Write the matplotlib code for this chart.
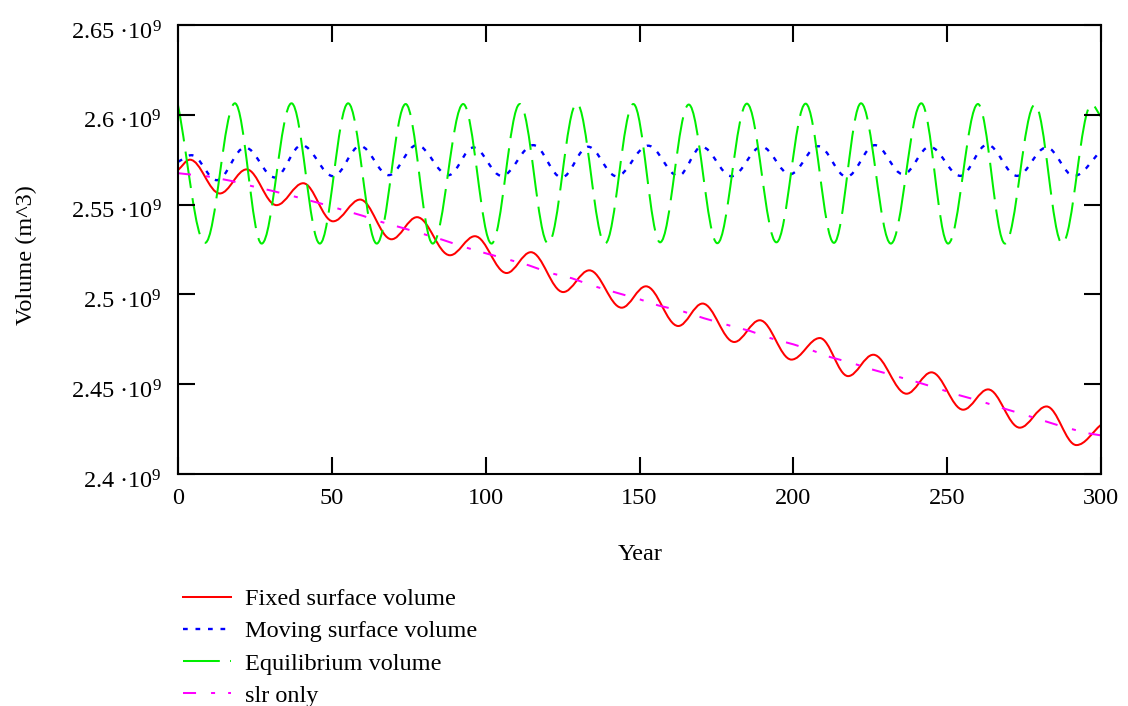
import matplotlib
matplotlib.use("Agg")
import matplotlib.pyplot as plt
from matplotlib.path import Path
from matplotlib.patches import PathPatch
from matplotlib.lines import Line2D
from matplotlib.ticker import FuncFormatter
from matplotlib.transforms import ScaledTranslation

# volumes in units of 10^9 m^3, turning points
fixed_year = [0, 3.9, 13.6, 22.3, 32.0, 40.7, 50.4, 59.2, 69.4, 77.7,
              88.4, 96.5, 106.8, 114.7, 125.2, 133.7, 144.2, 152.1, 162.6, 170.5,
              180.8, 189.1, 199.4, 208.6, 217.8, 226.0, 236.8, 244.9, 255.2, 263.3,
              273.6, 282.3, 292.0, 300]
fixed_vol = [2.5692, 2.5750, 2.5562, 2.5696, 2.5497, 2.5619, 2.5407, 2.5528, 2.5307, 2.5430,
             2.5218, 2.5324, 2.5119, 2.5235, 2.5013, 2.5134, 2.4926, 2.5045, 2.4824, 2.4949,
             2.4735, 2.4856, 2.4637, 2.4757, 2.4545, 2.4664, 2.4447, 2.4566, 2.4358, 2.4471,
             2.4258, 2.4376, 2.4161, 2.4274]

moving_year = [0, 4.4, 12.6, 21.8, 31.5, 40.2, 50.5, 59.2, 68.5, 77.6,
               87.9, 96.0, 105.2, 115.5, 124.7, 133.3, 142.5, 152.8, 162.6, 170.2,
               179.9, 189.7, 198.9, 208.1, 217.3, 226.5, 235.7, 244.3, 254.3, 263.0,
               272.7, 282.3, 291.2, 300]
moving_vol = [2.5738, 2.5775, 2.5636, 2.5818, 2.5651, 2.5831, 2.5658, 2.5826, 2.5664, 2.5831,
              2.5664, 2.5818, 2.5660, 2.5831, 2.5651, 2.5822, 2.5658, 2.5828, 2.5660, 2.5822,
              2.5658, 2.5822, 2.5669, 2.5825, 2.5655, 2.5831, 2.5669, 2.5822, 2.5660, 2.5834,
              2.5660, 2.5818, 2.5660, 2.5799]

equil_year = [0, 8.8, 18.5, 27.2, 36.9, 46.1, 55.3, 64.6, 74.0, 82.8,
              92.7, 101.9, 111.1, 120.3, 129.6, 138.8, 148.0, 156.7, 166.0, 175.3,
              184.9, 194.5, 204.0, 213.2, 222.0, 231.7, 241.6, 250.3, 260.0, 268.8,
              278.5, 287.4, 296.9, 300]
equil_vol = [2.6054, 2.5287, 2.6064, 2.5283, 2.6064, 2.5283, 2.6064, 2.5283, 2.6060, 2.5283,
             2.6060, 2.5283, 2.6060, 2.5283, 2.6064, 2.5283, 2.6060, 2.5290, 2.6057, 2.5285,
             2.6062, 2.5290, 2.6062, 2.5287, 2.6064, 2.5283, 2.6064, 2.5283, 2.6060, 2.5283,
             2.6057, 2.5283, 2.6057, 2.5989]

slr_year = [0, 10, 17, 24, 31, 39, 46, 52, 60, 66,
            73, 80, 86, 93, 100, 107, 114, 121, 128, 135,
            142, 150, 156, 164, 171, 179, 186, 192, 200, 205.5,
            212, 219, 226, 232.5, 240, 246.5, 253, 260, 267, 274,
            280, 288, 296, 300]
slr_vol = [2.5675, 2.5656, 2.5633, 2.5603, 2.5575, 2.5540, 2.5508, 2.5478, 2.5438, 2.5404,
           2.5370, 2.5335, 2.5304, 2.5264, 2.5229, 2.5196, 2.5162, 2.5119, 2.5090, 2.5047,
           2.5012, 2.4973, 2.4939, 2.4906, 2.4867, 2.4828, 2.4796, 2.4759, 2.4722, 2.4692,
           2.4651, 2.4618, 2.4580, 2.4549, 2.4513, 2.4479, 2.4443, 2.4410, 2.4372, 2.4336,
           2.4304, 2.4261, 2.4226, 2.4215]

x_ticks = [0, 50, 100, 150, 200, 250, 300]
y_ticks = [2.4, 2.45, 2.5, 2.55, 2.6, 2.65]

labels = ["Fixed surface volume", "Moving surface volume", "Equilibrium volume", "slr only"]

plt.rcParams["font.family"] = ["Liberation Serif", "DejaVu Serif"]
plt.rcParams["mathtext.fontset"] = "custom"
plt.rcParams["mathtext.rm"] = "Liberation Serif"
plt.rcParams["mathtext.it"] = "Liberation Serif:italic"
plt.rcParams["lines.scale_dashes"] = False

FS = 17.5
LW = 1.45
styles = [
    dict(color="#ff0000", linestyle="-", lw=LW),
    dict(color="#0000ff", linestyle=(0, (3.4, 5.6)), lw=1.7),
    dict(color="#00ee00", linestyle=(0, (26.5, 7.4)), lw=LW),
    dict(color="#ff00ff", linestyle=(0, (9.4, 10.8, 2.9, 9.4)), lw=LW),
]


def smooth_path(xs, ys, k=0.36):
    # cubic segments with flat tangents at the turning points
    verts = [(xs[0], ys[0])]
    codes = [Path.MOVETO]
    n = len(xs)
    for i in range(n - 1):
        x0, y0, x1, y1 = xs[i], ys[i], xs[i + 1], ys[i + 1]
        dx = x1 - x0
        c1y = y0 if i > 0 else y0 + k * (y1 - y0)
        c2y = y1 if i < n - 2 else y1 - k * (y1 - y0)
        verts += [(x0 + k * dx, c1y), (x1 - k * dx, c2y), (x1, y1)]
        codes += [Path.CURVE4] * 3
    return Path(verts, codes)


fig = plt.figure(figsize=(11.28, 7.06), dpi=100)
ax = fig.add_axes([178 / 1128, 1 - 474 / 706, 923 / 1128, 449 / 706])

series = [(fixed_year, fixed_vol), (moving_year, moving_vol), (equil_year, equil_vol)]
for (xs, ys), st in zip(series, styles[:3]):
    ax.add_patch(PathPatch(smooth_path(xs, ys), fill=False, edgecolor=st["color"],
                           linestyle=st["linestyle"], lw=st["lw"]))
ax.plot(slr_year, slr_vol, **styles[3])

ax.set_xlim(0, 300)
ax.set_ylim(2.4, 2.65)
ax.set_xticks(x_ticks)
ax.set_yticks(y_ticks)
ax.yaxis.set_major_formatter(FuncFormatter(lambda v, p: f"{v:g} \u00b710$^{{9}}$"))

for s in ax.spines.values():
    s.set_linewidth(1.5)
ax.tick_params(direction="in", length=12, width=1.5, top=True, right=True,
               labelsize=FS, colors="black")
ax.tick_params(axis="x", pad=10)
ax.tick_params(axis="y", pad=12)

# Mathcad puts the mantissa a little below the tick, exponent above
shift = ScaledTranslation(0, -5 / 100, fig.dpi_scale_trans)
for t in ax.yaxis.get_major_ticks():
    t.label1.set_transform(t.label1.get_transform() + shift)

ax.set_xlabel("Year", fontsize=FS)
ax.set_ylabel("Volume (m^3)", fontsize=FS)
ax.xaxis.set_label_coords(0.5005, -0.155)
ax.yaxis.set_label_coords(-0.153, 0.488)

handles = [Line2D([], [], **st) for st in styles]
fig.legend(handles, labels, loc="upper left", bbox_to_anchor=(0.162, 0.167),
           frameon=False, fontsize=FS, handlelength=2.0, handletextpad=0.56,
           labelspacing=0.42, borderpad=0, borderaxespad=0)

fig.savefig("out.png", dpi=100)
